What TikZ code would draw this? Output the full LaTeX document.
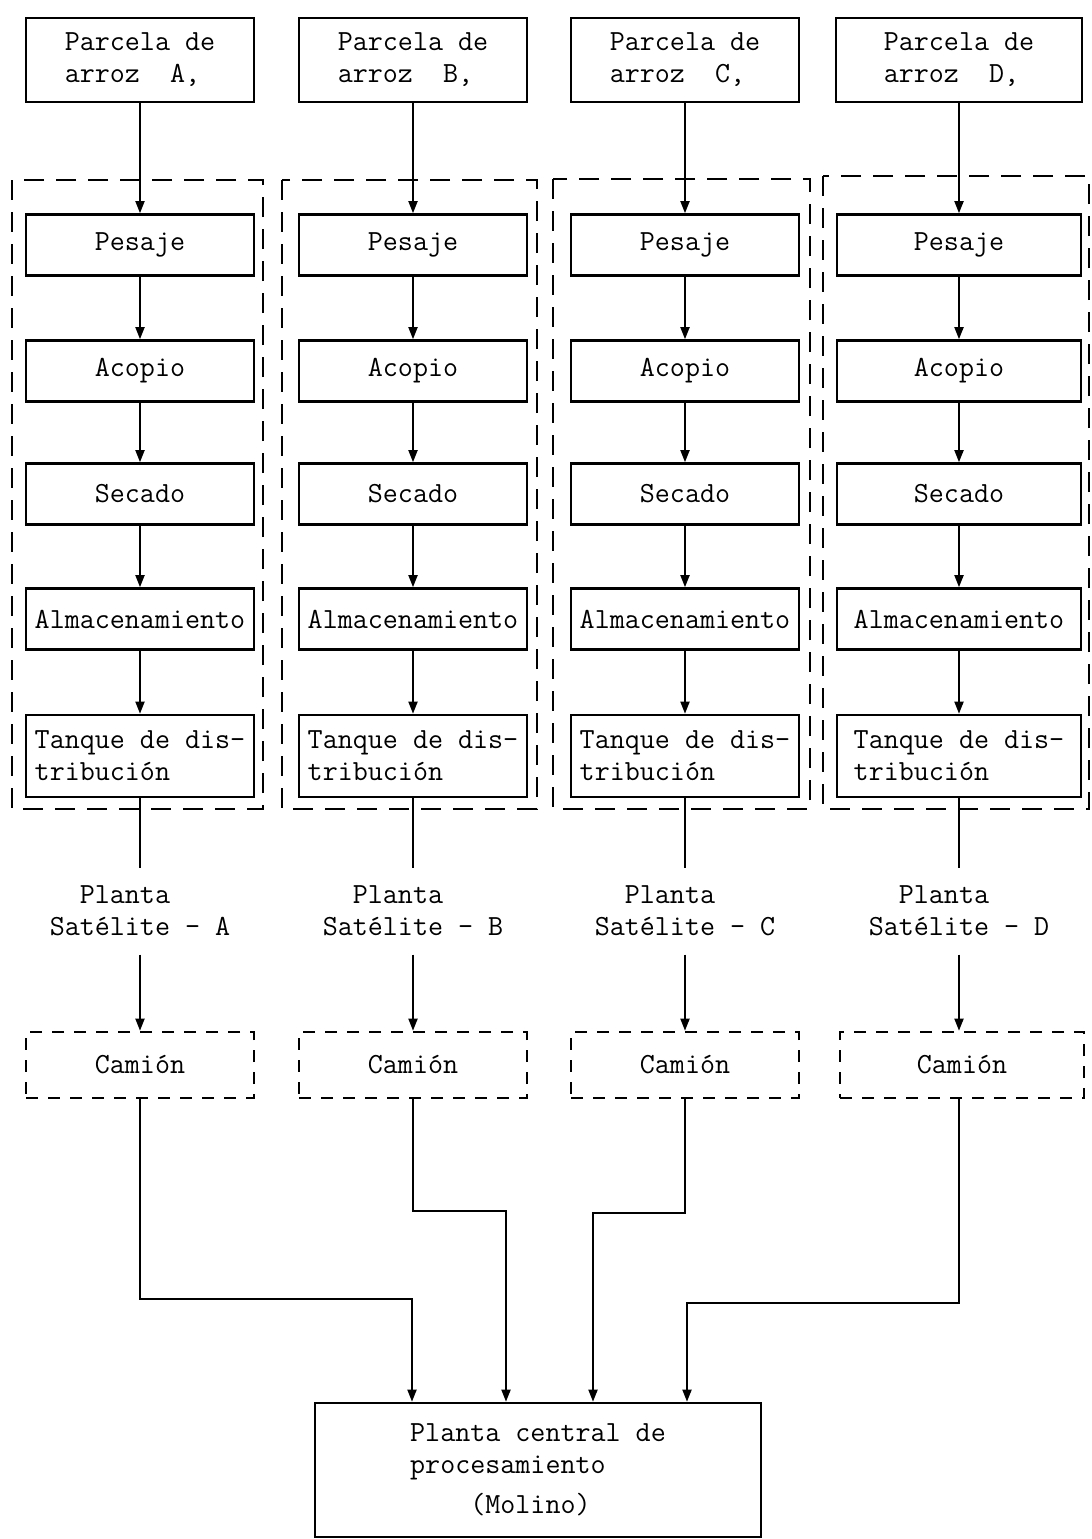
\documentclass[tikz,border=0pt]{standalone}
\usepackage{fontspec}
\usetikzlibrary{arrows.meta}
\begin{document}
\begin{tikzpicture}[x=0.5pt,y=-0.5pt,
every node/.style={font=\ttfamily\fontsize{14.6pt}{16pt}\selectfont},
caja/.style={rectangle, fill=none, draw=black, line width=1.3pt, minimum width=114pt, minimum height=30.5pt, inner sep=2pt, align=left},
parcela/.style={caja, minimum height=42pt},
tanque/.style={caja, minimum height=41pt},
camion/.style={caja, minimum height=33pt, dash pattern=on 6pt off 5pt},
zona/.style={draw=black, line width=1.3pt, dash pattern=on 10pt off 6pt},
satelite/.style={align=left, inner xsep=2pt, inner ysep=9pt},
flecha/.style={draw=black, line width=0.9pt, -{Triangle[length=6pt,width=4.5pt]}},
linea/.style={draw=black, line width=0.9pt}]
\useasboundingbox (0,0) rectangle (1092,1539);
\draw [zona] (12,180) rectangle (263,809);
\draw [zona] (282,180) rectangle (537,809);
\draw [zona] (553,179) rectangle (810,809);
\draw [zona] (823,176) rectangle (1089,809);
\node [parcela] (parA) at (140,60) {Parcela de\\arroz\ \ A,};
\node [parcela] (parB) at (413,60) {Parcela de\\arroz\ \ B,};
\node [parcela] (parC) at (685,60) {Parcela de\\arroz\ \ C,};
\node [parcela, minimum width=123pt] (parD) at (959,60) {Parcela de\\arroz\ \ D,};
\node [caja] (pesA) at (140,245) {Pesaje};
\node [caja] (pesB) at (413,245) {Pesaje};
\node [caja] (pesC) at (685,245) {Pesaje};
\node [caja, minimum width=122pt] (pesD) at (959,245) {Pesaje};
\node [caja] (acoA) at (140,371) {Acopio};
\node [caja] (acoB) at (413,371) {Acopio};
\node [caja] (acoC) at (685,371) {Acopio};
\node [caja, minimum width=122pt] (acoD) at (959,371) {Acopio};
\node [caja] (secA) at (140,494) {Secado};
\node [caja] (secB) at (413,494) {Secado};
\node [caja] (secC) at (685,494) {Secado};
\node [caja, minimum width=122pt] (secD) at (959,494) {Secado};
\node [caja] (almA) at (140,619) {Almacenamiento};
\node [caja] (almB) at (413,619) {Almacenamiento};
\node [caja] (almC) at (685,619) {Almacenamiento};
\node [caja, minimum width=122pt] (almD) at (959,619) {Almacenamiento};
\node [tanque] (tanA) at (140,756) {Tanque de dis-\\tribución};
\node [tanque] (tanB) at (413,756) {Tanque de dis-\\tribución};
\node [tanque] (tanC) at (685,756) {Tanque de dis-\\tribución};
\node [tanque, minimum width=122pt] (tanD) at (959,756) {Tanque de dis-\\tribución};
\node [satelite] (satA) at (140,911) {\phantom{xx}Planta\\Satélite - A};
\node [satelite] (satB) at (413,911) {\phantom{xx}Planta\\Satélite - B};
\node [satelite] (satC) at (685,911) {\phantom{xx}Planta\\Satélite - C};
\node [satelite] (satD) at (959,911) {\phantom{xx}Planta\\Satélite - D};
\node [camion] (camA) at (140,1065) {Camión};
\node [camion] (camB) at (413,1065) {Camión};
\node [camion] (camC) at (685,1065) {Camión};
\node [camion, minimum width=122pt] (camD) at (962,1065) {Camión};
\node [caja, minimum width=223pt, minimum height=67pt] (molino) at (538,1470) {Planta central de\\procesamiento\\[4pt]\phantom{xxxx}(Molino)};
\coordinate (qA) at (412,1299);
\coordinate (qB) at (506,1211);
\coordinate (qC) at (593,1213);
\coordinate (qD) at (687,1303);
\draw [flecha] (parA.south) -- (pesA.north);
\draw [flecha] (parB.south) -- (pesB.north);
\draw [flecha] (parC.south) -- (pesC.north);
\draw [flecha] (parD.south) -- (pesD.north);
\draw [flecha] (pesA.south) -- (acoA.north);
\draw [flecha] (pesB.south) -- (acoB.north);
\draw [flecha] (pesC.south) -- (acoC.north);
\draw [flecha] (pesD.south) -- (acoD.north);
\draw [flecha] (acoA.south) -- (secA.north);
\draw [flecha] (acoB.south) -- (secB.north);
\draw [flecha] (acoC.south) -- (secC.north);
\draw [flecha] (acoD.south) -- (secD.north);
\draw [flecha] (secA.south) -- (almA.north);
\draw [flecha] (secB.south) -- (almB.north);
\draw [flecha] (secC.south) -- (almC.north);
\draw [flecha] (secD.south) -- (almD.north);
\draw [flecha] (almA.south) -- (tanA.north);
\draw [flecha] (almB.south) -- (tanB.north);
\draw [flecha] (almC.south) -- (tanC.north);
\draw [flecha] (almD.south) -- (tanD.north);
\draw [linea] (tanA.south) -- (satA.north);
\draw [linea] (tanB.south) -- (satB.north);
\draw [linea] (tanC.south) -- (satC.north);
\draw [linea] (tanD.south) -- (satD.north);
\draw [flecha] (satA.south) -- (camA.north);
\draw [flecha] (satB.south) -- (camB.north);
\draw [flecha] (satC.south) -- (camC.north);
\draw [flecha] (satD.south) -- (satD.south |- camD.north);
\draw [flecha] (camA.south) |- (qA) -- (qA |- molino.north);
\draw [flecha] (camB.south) |- (qB) -- (qB |- molino.north);
\draw [flecha] (camC.south) |- (qC) -- (qC |- molino.north);
\draw [flecha] (camD.south -| satD.south) |- (qD) -- (qD |- molino.north);
\end{tikzpicture}
\end{document}
